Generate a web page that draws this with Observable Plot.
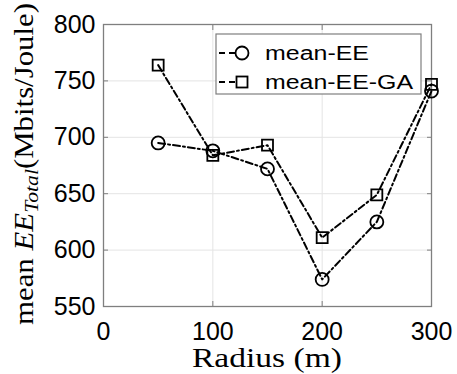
<!DOCTYPE html>
<html><head><meta charset="utf-8">
<script src="https://cdn.jsdelivr.net/npm/d3@7"></script>
<script src="https://cdn.jsdelivr.net/npm/@observablehq/plot@0.6"></script>
<style>body{margin:0;background:#fff;} #chart{position:relative;width:457px;height:374px;}</style>
</head><body><div id="chart"></div>
<script>
const radius = [50, 100, 150, 200, 250, 300];
const meanEE = [695, 688, 672, 574, 625, 741];
const meanEEGA = [764, 684, 693, 611, 649, 747];
const xTicks = [0, 100, 200, 300];
const yTicks = [550, 600, 650, 700, 750, 800];
const seriesNames = ["mean-EE", "mean-EE-GA"];
const xLabel = "Radius (m)";

const data = [
  ...radius.map((r, i) => ({radius: r, value: meanEE[i], series: seriesNames[0]})),
  ...radius.map((r, i) => ({radius: r, value: meanEEGA[i], series: seriesNames[1]}))
];
const frameGray = "#7f7f7f";
const gridGray = "#e4e4e4";
const dash = "7,3,2,3";
const blank = () => "";

const plot = Plot.plot({
  width: 457, height: 374,
  marginLeft: 103, marginRight: 26, marginTop: 24, marginBottom: 68,
  style: {fontFamily: "'Liberation Sans', Arial, sans-serif", fontSize: "25px", color: "#000", background: "#fff"},
  x: {domain: [0, 300]},
  y: {domain: [550, 800]},
  marks: [
    Plot.gridX(xTicks, {stroke: gridGray, strokeOpacity: 1}),
    Plot.gridY(yTicks, {stroke: gridGray, strokeOpacity: 1}),
    Plot.axisX(xTicks, {anchor: "bottom", tickSize: 0, tickPadding: 16, label: null}),
    Plot.axisY(yTicks, {anchor: "left", tickSize: 0, tickPadding: 8, label: null}),
    Plot.axisX(xTicks, {anchor: "bottom", tickSize: -5, tickFormat: blank, stroke: frameGray, label: null}),
    Plot.axisX(xTicks, {anchor: "top", tickSize: -5, tickFormat: blank, stroke: frameGray, label: null}),
    Plot.axisY(yTicks, {anchor: "left", tickSize: -5, tickFormat: blank, stroke: frameGray, label: null}),
    Plot.axisY(yTicks, {anchor: "right", tickSize: -5, tickFormat: blank, stroke: frameGray, label: null}),
    Plot.frame({stroke: frameGray, strokeWidth: 1.3}),
    Plot.line(data, {x: "radius", y: "value", z: "series", stroke: "#000", strokeWidth: 2, strokeDasharray: dash}),
    Plot.dot(data.filter(d => d.series === seriesNames[0]), {x: "radius", y: "value", symbol: "circle", r: 6.5, stroke: "#000", fill: "none", strokeWidth: 1.8}),
    Plot.dot(data.filter(d => d.series === seriesNames[1]), {x: "radius", y: "value", symbol: "square", r: 6.2, stroke: "#000", fill: "none", strokeWidth: 1.8})
  ]
});
document.getElementById("chart").appendChild(plot);

const svg = d3.select(plot);
const serif = "'Liberation Serif', 'Times New Roman', serif";
// x label
svg.append("text")
  .attr("x", 267).attr("y", 367)
  .attr("text-anchor", "middle")
  .attr("font-family", serif)
  .attr("font-size", 27)
  .attr("textLength", 150).attr("lengthAdjust", "spacingAndGlyphs")
  .attr("fill", "#000")
  .text(xLabel);
// y label
const yl = svg.append("text")
  .attr("transform", "translate(33,164) rotate(-90)")
  .attr("text-anchor", "middle")
  .attr("font-family", serif)
  .attr("font-size", 27)
  .attr("textLength", 322).attr("lengthAdjust", "spacingAndGlyphs")
  .attr("fill", "#000");
yl.append("tspan").text("mean ");
yl.append("tspan").attr("font-style", "italic").text("EE");
yl.append("tspan").attr("font-style", "italic").attr("font-size", 19).attr("dy", 5).text("Total");
yl.append("tspan").attr("dy", -5).text("(Mbits/Joule)");

// legend
const lg = svg.append("g").attr("text-anchor", "start");
lg.append("rect").attr("x", 216).attr("y", 34).attr("width", 205).attr("height", 60)
  .attr("fill", "#fff").attr("stroke", frameGray).attr("stroke-width", 1.2);
const rows = [
  {name: seriesNames[0], sym: "circle", cy: 53, len: 104},
  {name: seriesNames[1], sym: "square", cy: 82, len: 148}
];
rows.forEach(r => {
  lg.append("line").attr("x1", 219).attr("x2", 263).attr("y1", r.cy).attr("y2", r.cy)
    .attr("stroke", "#000").attr("stroke-width", 2).attr("stroke-dasharray", "6,4,6,30,6,4");
  if (r.sym === "circle") {
    lg.append("circle").attr("cx", 242).attr("cy", r.cy).attr("r", 6.5).attr("fill", "none").attr("stroke", "#000").attr("stroke-width", 1.8);
  } else {
    lg.append("rect").attr("x", 242 - 5.5).attr("y", r.cy - 5.5).attr("width", 11).attr("height", 11).attr("fill", "none").attr("stroke", "#000").attr("stroke-width", 1.8);
  }
  lg.append("text").attr("x", 265).attr("y", r.cy + 7)
    .attr("text-anchor", "start")
    .attr("font-family", "'Liberation Sans', Arial, sans-serif").attr("font-size", 20)
    .attr("textLength", r.len).attr("lengthAdjust", "spacingAndGlyphs")
    .attr("fill", "#000").text(r.name);
});
</script>
</body></html>
